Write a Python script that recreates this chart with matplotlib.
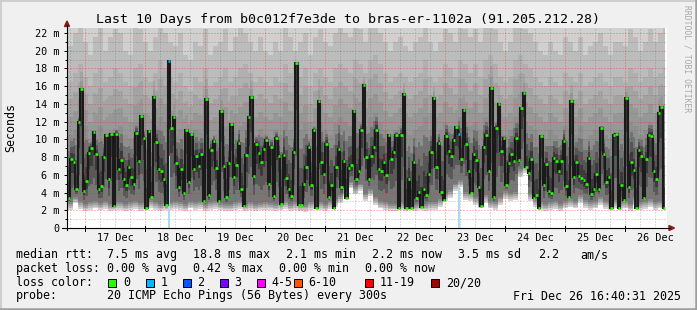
import numpy as np
import pandas as pd
import matplotlib
matplotlib.use('Agg')
import matplotlib.pyplot as plt
import matplotlib.dates as mdates
from matplotlib.patches import Rectangle, Polygon
from matplotlib.lines import Line2D

W, H = 697, 310

# hourly median rtt in ms, one value per clock hour starting Dec 16 17:00
median_ms = [
    3.4, 7.8, 7.5, 4.4, 12.0, 15.7, 4.2, 5.3, 8.5, 9.0,
    10.8, 8.3, 4.4, 4.7, 8.0, 10.5, 5.5, 10.6, 2.5, 10.6,
    6.6, 7.7, 5.5, 4.9, 6.9, 5.7, 5.0, 10.7, 7.6, 12.6,
    10.1, 2.3, 10.9, 3.5, 14.8, 9.7, 6.7, 6.4, 5.5, 2.6,
    18.8, 11.3, 12.5, 7.3, 4.6, 6.6, 4.0, 11.1, 5.2, 10.6,
    6.7, 8.1, 7.0, 8.3, 3.0, 14.5, 3.7,
    8.8, 9.8, 6.8, 3.0, 13.2, 7.0, 3.5, 7.3, 11.7, 5.7,
    7.1, 9.6, 4.4, 2.5, 8.2, 12.5, 14.8, 5.9, 9.5, 8.5,
    7.4, 8.9, 9.9, 5.0, 9.1, 3.6, 10.1, 8.1, 2.7, 8.2,
    5.6, 4.4, 3.6, 8.6, 18.6, 2.6, 2.6, 5.0, 6.9, 9.1,
    4.9, 11.1, 2.3, 14.3, 7.5, 6.1, 9.5, 3.5, 4.8, 2.2,
    6.9, 8.9, 4.6, 7.6, 3.4, 6.8,
    7.1, 13.2, 5.5, 6.4, 11.1, 16.1, 8.0, 5.5, 8.1, 9.1,
    11.1, 6.6, 6.4, 7.4, 6.0, 10.5, 7.8, 8.6, 10.5, 2.3,
    10.5, 15.1, 2.3, 5.5, 2.3, 7.5, 3.4, 4.1, 2.4, 4.4,
    3.7, 6.1, 8.6, 14.7, 6.9, 9.6, 4.1, 3.2, 10.4, 8.7,
    8.1, 9.9, 11.4, 10.6, 7.8, 13.3, 9.5, 6.4, 3.9, 8.3,
    7.7, 4.6, 2.5, 9.1, 10.5, 6.4,
    15.8, 3.5, 11.3, 14.0, 8.7, 10.1, 4.8, 7.3, 8.4, 7.6,
    10.1, 7.7, 13.5, 15.2, 6.9, 6.2, 7.8, 3.4, 3.7, 2.3,
    10.4, 4.9, 7.2, 4.2, 3.9, 7.9, 7.6, 6.4, 7.6, 9.8,
    4.7, 3.5, 14.3, 5.7, 7.5, 5.9, 5.6, 5.4, 5.0, 7.9,
    3.8, 4.4, 6.1, 4.4, 11.3, 8.4, 5.2, 5.7, 2.3, 10.5,
    10.6, 2.2, 4.8, 3.2, 14.7, 4.6,
    7.5, 6.5, 2.2, 8.8, 8.1, 3.4, 7.8, 10.5, 10.4, 6.4,
    5.5, 13.0, 13.6, 2.2,
]

# hours with lost pings (index into median_ms), number lost, height of loss bar
loss_hour = [40, 156]
loss_count = [1, 1]
loss_bar_ms = [8.1, 4.6]

# smoke envelope at 2 hour resolution (ms)
smoke_lo = [
    2.0, 2.8, 2.1, 1.9, 2.0, 2.2, 2.0, 2.1, 1.9, 2.0,
    2.0, 1.9, 2.0, 2.1, 1.9, 2.0, 2.2, 2.0, 1.9, 2.0,
    2.0, 2.1, 2.0, 1.9, 2.2, 2.0, 2.1, 1.9, 2.0, 2.1,
    2.0, 1.9, 1.9, 2.0, 2.1, 1.9, 2.0, 1.9, 2.0, 2.0,
    2.0, 1.9, 2.0, 2.1, 1.9, 2.0, 1.9, 1.8, 2.0, 2.1,
    2.0, 1.9, 2.1, 2.4, 2.8, 3.6, 4.5, 3.8, 4.2, 3.0,
    3.6, 2.6, 2.2, 2.0, 1.9, 1.9, 2.0, 1.9, 2.0, 1.9,
    2.0, 1.9, 2.0, 2.0, 2.4, 3.0, 3.4, 4.2, 4.6, 3.2,
    3.0, 2.6, 2.2, 2.8, 2.2, 2.0, 2.6, 3.3, 3.0, 3.2,
    5.8, 6.2, 3.0, 2.4, 2.0, 1.9, 2.0, 2.1, 1.9, 2.2,
    2.4, 2.2, 2.8, 2.3, 2.0, 2.2, 2.6, 2.1, 2.0, 2.3,
    2.0, 2.2, 1.9, 2.6, 2.0, 2.1, 2.4, 2.0, 2.2, 2.0,
]
smoke_q1 = [
    2.9, 3.5, 3.0, 2.7, 2.9, 3.1, 2.8, 3.0, 2.7, 2.9,
    2.9, 2.7, 2.9, 3.0, 2.8, 2.9, 3.2, 2.9, 2.7, 2.9,
    2.9, 3.0, 2.9, 2.7, 3.1, 2.9, 3.0, 2.7, 2.9, 3.0,
    2.8, 2.7, 2.7, 2.9, 3.0, 2.7, 2.9, 2.7, 2.8, 2.9,
    2.8, 2.7, 2.9, 3.0, 2.7, 2.9, 2.7, 2.6, 2.9, 3.0,
    2.9, 2.7, 3.0, 3.3, 3.7, 4.4, 5.2, 4.6, 5.0, 3.9,
    4.4, 3.5, 3.1, 2.9, 2.7, 2.7, 2.9, 2.7, 2.9, 2.7,
    2.9, 2.7, 2.9, 2.9, 3.3, 3.9, 4.3, 5.0, 5.4, 4.1,
    3.9, 3.5, 3.1, 3.7, 3.1, 2.9, 3.5, 4.2, 3.9, 4.1,
    6.6, 7.0, 3.9, 3.3, 2.9, 2.7, 2.9, 3.0, 2.7, 3.1,
    3.3, 3.1, 3.7, 3.2, 2.9, 3.1, 3.5, 3.0, 2.9, 3.2,
    2.9, 3.1, 2.7, 3.5, 2.9, 3.0, 3.3, 2.9, 3.1, 2.9,
]
smoke_q3 = [
    10.5, 11.0, 12.5, 11.5, 10.0, 10.5, 11.5, 10.0, 10.8, 11.2,
    11.5, 10.5, 10.0, 11.8, 12.0, 11.0, 10.2, 11.5, 12.5, 12.0,
    11.0, 10.5, 11.2, 10.4, 9.8, 11.0, 10.8, 12.0, 10.2, 10.5,
    11.0, 11.5, 10.0, 10.8, 11.5, 12.0, 11.0, 10.5, 11.2, 10.6,
    10.2, 11.0, 10.5, 12.0, 11.0, 10.5, 11.0, 11.8, 10.0, 11.5,
    12.0, 11.0, 10.5, 11.8, 12.5, 12.0, 11.5, 12.5, 12.0, 11.5,
    12.5, 13.0, 12.0, 11.0, 10.5, 11.0, 11.5, 10.8, 10.5, 11.0,
    11.5, 12.5, 11.0, 10.5, 11.0, 12.0, 11.5, 11.0, 12.5, 12.0,
    11.5, 12.0, 11.0, 12.5, 13.0, 12.0, 11.0, 10.5, 11.0, 12.5,
    13.0, 12.0, 11.5, 11.0, 10.5, 10.0, 11.0, 10.5, 10.0, 11.5,
    11.0, 10.5, 11.5, 10.0, 10.5, 11.0, 11.5, 10.5, 10.0, 10.8,
    11.0, 10.5, 12.0, 11.5, 10.5, 11.0, 12.0, 11.0, 11.5, 12.0,
]
smoke_q9 = [
    16.5, 17.5, 18.5, 17.0, 16.0, 17.5, 18.0, 16.5, 17.0, 18.0,
    17.5, 16.5, 16.0, 18.0, 18.5, 17.0, 16.5, 17.5, 19.0, 18.0,
    17.0, 16.5, 17.5, 16.0, 15.5, 17.0, 16.5, 18.0, 16.0, 16.5,
    17.0, 18.0, 16.5, 17.0, 18.0, 18.5, 17.5, 16.5, 17.0, 16.5,
    16.0, 17.0, 16.5, 18.5, 17.5, 16.5, 17.0, 18.0, 16.0, 17.5,
    18.0, 17.0, 16.5, 18.0, 18.5, 18.0, 17.5, 19.0, 18.5, 17.5,
    19.0, 19.5, 18.5, 17.5, 16.5, 17.0, 17.5, 17.0, 16.5, 17.0,
    17.5, 19.0, 17.0, 16.5, 17.0, 18.5, 18.0, 17.0, 19.0, 18.5,
    17.5, 18.5, 17.0, 19.0, 19.5, 18.5, 17.0, 16.5, 17.0, 19.0,
    19.5, 18.5, 18.0, 17.0, 16.5, 16.0, 17.0, 16.5, 16.0, 17.5,
    17.0, 16.5, 17.5, 16.0, 16.5, 17.0, 17.5, 16.5, 16.0, 17.0,
    17.0, 16.5, 18.0, 17.5, 16.5, 17.0, 18.0, 17.0, 17.5, 18.0,
]
smoke_q95 = [
    20.5, 22.0, 23.0, 21.0, 19.5, 21.5, 23.0, 20.0, 21.5, 22.5,
    22.0, 20.0, 19.5, 23.0, 22.5, 21.0, 20.0, 21.5, 23.0, 22.0,
    21.0, 20.5, 22.0, 19.5, 19.0, 21.0, 20.5, 22.5, 19.5, 20.5,
    21.0, 22.5, 20.0, 21.5, 23.0, 22.0, 21.0, 20.0, 21.5, 20.0,
    19.5, 21.0, 20.0, 23.0, 21.5, 20.0, 21.0, 22.0, 19.5, 21.5,
    22.5, 21.0, 20.5, 22.0, 23.0, 22.0, 21.5, 23.0, 22.5, 21.0,
    23.0, 23.0, 22.0, 21.0, 20.0, 21.0, 21.5, 20.5, 20.0, 21.0,
    21.5, 23.0, 21.0, 20.0, 21.0, 22.5, 22.0, 21.0, 23.0, 22.5,
    21.5, 22.5, 21.0, 23.0, 23.0, 22.5, 21.0, 20.0, 21.0, 23.0,
    23.0, 22.5, 22.0, 21.0, 20.0, 19.5, 21.0, 20.0, 19.5, 21.5,
    21.0, 20.0, 21.5, 19.5, 20.5, 21.0, 22.0, 20.5, 19.5, 21.0,
    21.0, 20.5, 22.5, 21.5, 20.0, 21.0, 22.5, 21.0, 22.0, 23.0,
]

y_ticks = [0, 2, 4, 6, 8, 10, 12, 14, 16, 18, 20, 22]
y_labels = ['0'] + ['%d m' % v for v in y_ticks[1:]]
day_labels = ['17 Dec', '18 Dec', '19 Dec', '20 Dec', '21 Dec',
              '22 Dec', '23 Dec', '24 Dec', '25 Dec', '26 Dec']

loss_names = ['0', '1', '2', '3', '4-5', '6-10', '11-19', '20/20']
loss_colors = ['#26ff00', '#00b8ff', '#0059ff', '#7e00ff',
               '#ff00ff', '#ff5500', '#ff0000', '#a10000']

t_start = pd.Timestamp('2025-12-16 16:40:31')
t_end = pd.Timestamp('2025-12-26 16:40:31')
FONT = 'DejaVu Sans Mono'


def fx(x):
    return x / W


def fy(y):
    return 1 - y / H


def grey(c0, c1, k, n):
    a = np.array(matplotlib.colors.to_rgb(c0))
    b = np.array(matplotlib.colors.to_rgb(c1))
    f = k / max(n - 1, 1)
    return tuple(a + (b - a) * f)


def band(ax, edges, lo, hi, c0, c1, n):
    # split lo..hi into n slices shaded from c0 to c1
    for k in range(n):
        y0 = lo + (hi - lo) * k / n
        y1 = lo + (hi - lo) * (k + 1) / n
        ax.stairs(y1, edges, baseline=y0, fill=True, color=grey(c0, c1, k, n),
                  lw=0, antialiased=False, zorder=1)


plt.rcParams['font.family'] = FONT
plt.rcParams['lines.scale_dashes'] = False
fig = plt.figure(figsize=(W / 100, H / 100), dpi=100)
fig.patch.set_facecolor('#f0f0f0')

ax = fig.add_axes([fx(67), fy(228), 600 / W, 200 / H])
ax.set_facecolor('white')

med = np.array(median_ms)
n = len(med)
edges = mdates.date2num(pd.date_range('2025-12-16 17:00', periods=n + 1, freq='h'))
lo = np.repeat(smoke_lo, 2)[:n]
q1 = np.repeat(smoke_q1, 2)[:n]
q3 = np.repeat(smoke_q3, 2)[:n]
q9 = np.repeat(smoke_q9, 2)[:n]
q95 = np.repeat(smoke_q95, 2)[:n]
top = np.full(n, 23.0)

q1d = np.minimum(q1, med)
q3d = np.maximum(q3, med)
q9d = np.maximum(q9, q3d)
q95d = np.maximum(q95, q9d)

band(ax, edges, lo, q1d, '#d4d4d4', '#8a8a8a', 4)
band(ax, edges, q1d, med, '#777777', '#3a3a3a', 3)
band(ax, edges, med, q3d, '#3a3a3a', '#8e8e8e', 4)
band(ax, edges, q3d, q9d, '#979797', '#b0b0b0', 3)
ax.stairs(q95d, edges, baseline=q9d, fill=True, color='#bcbcbc', lw=0,
          antialiased=False, zorder=1)
ax.stairs(top, edges, baseline=q95d, fill=True, color='#d0d0d0', lw=0,
          antialiased=False, zorder=1)

# grid, dotted 1px like rrdtool
dots = (0, (0.72, 1.44))
minor_c = (0.35, 0.35, 0.35, 0.4)
major_c = (1, 0.1, 0.1, 0.55)
for v in range(1, 23):
    ax.axhline(v, color=major_c if v % 2 == 0 else minor_c, lw=0.72, ls=dots, zorder=2)
for t in pd.date_range('2025-12-16 18:00', '2025-12-26 12:00', freq='6h'):
    ax.axvline(mdates.date2num(t), color=major_c if t.hour == 0 else minor_c,
               lw=0.72, ls=dots, zorder=2)

# loss bars
for h, c, b in zip(loss_hour, loss_count, loss_bar_ms):
    ax.bar(edges[h], b, width=edges[h + 1] - edges[h], align='edge',
           color='#a4def5', lw=0, zorder=2.5)

# median line
ax.stairs(med, edges, baseline=None, color='#1a1a1a', lw=1.5, zorder=3)
cols = ['#26ff00'] * n
for h, c in zip(loss_hour, loss_count):
    cols[h] = loss_colors[c]
ax.hlines(med, edges[:-1], edges[1:], colors=cols, lw=1.9, zorder=4)

ax.set_xlim(mdates.date2num(t_start), mdates.date2num(t_end))
ax.set_ylim(0, 22.56)
for s in ax.spines.values():
    s.set_visible(False)

ax.set_yticks(y_ticks, y_labels)
ax.set_yticks(range(1, 23, 2), minor=True)
ax.tick_params(axis='y', which='major', length=3 / 1.389, width=0.72, pad=3.2,
               labelsize=7.25, direction='out')
ax.tick_params(axis='y', which='minor', length=2 / 1.389, width=0.72, direction='out')
noons = mdates.date2num(pd.date_range('2025-12-17 12:00', periods=10, freq='D'))
ax.set_xticks(noons, day_labels)
ax.tick_params(axis='x', which='major', length=0, pad=3.6, labelsize=7.25)

# axes lines and arrows
fig.add_artist(Line2D([fx(67), fx(67)], [fy(230), fy(25)], color='black', lw=0.8))
fig.add_artist(Line2D([fx(62), fx(670)], [fy(228), fy(228)], color='black', lw=0.8))
fig.add_artist(Polygon([(fx(64.5), fy(26.5)), (fx(69.5), fy(26.5)), (fx(67), fy(21))],
                       closed=True, color='#8c1a1a', transform=fig.transFigure))
fig.add_artist(Polygon([(fx(669), fy(225.5)), (fx(669), fy(230.5)), (fx(674.5), fy(228))],
                       closed=True, color='#8c1a1a', transform=fig.transFigure))
for t in pd.date_range('2025-12-17', '2025-12-26', freq='D'):
    xp = 67 + (t - t_start).total_seconds() / 3600 * 2.5
    fig.add_artist(Line2D([fx(xp), fx(xp)], [fy(226), fy(231)], color='black', lw=0.72))

# texts
fig.text(fx(347.5), fy(19), 'Last 10 Days from b0c012f7e3de to bras-er-1102a (91.205.212.28)',
         ha='center', va='center', fontsize=9.55)
fig.text(fx(10.5), fy(128), 'Seconds', rotation=90, ha='center', va='center', fontsize=8.4)
fig.text(fx(687), fy(59), 'RRDTOOL / TOBI OETIKER', rotation=270, ha='center', va='center',
         fontsize=5.8, color='#a8a8a8')

line1 = [('median rtt:', 16), ('7.5 ms avg', 107), ('18.8 ms max', 193), ('2.1 ms min', 286),
         ('2.2 ms now', 372), ('3.5 ms sd', 458), ('2.2', 538), ('am/s', 580)]
line2 = [('packet loss:', 16), ('0.00 % avg', 107), ('0.42 % max', 193),
         ('0.00 % min', 279), ('0.00 % now', 365)]
line4 = [('probe:', 16), ('20 ICMP Echo Pings (56 Bytes) every 300s', 107),
         ('Fri Dec 26 16:40:31 2025', 513)]
for items, yy in [(line1, 254.5), (line2, 268.5), (line4, 296)]:
    for s, xx in items:
        fig.text(fx(xx), fy(yy), s, ha='left', va='center', fontsize=8.4)

fig.text(fx(16), fy(282.5), 'loss color:', ha='left', va='center', fontsize=8.4)
box_x = [108, 145.5, 182.5, 219.5, 256.5, 293.5, 365, 431]
for name, col, bx in zip(loss_names, loss_colors, box_x):
    fig.add_artist(Rectangle((fx(bx), fy(286.5)), 8 / W, 8 / H, facecolor=col,
                             edgecolor='black', lw=0.72, transform=fig.transFigure))
    fig.text(fx(bx + 15), fy(282.5), name, ha='left', va='center', fontsize=8.4)

# 3d frame
fig.add_artist(Line2D([0, 1], [fy(0.7), fy(0.7)], color='#cfcfcf', lw=1.4))
fig.add_artist(Line2D([fx(0.7), fx(0.7)], [0, 1], color='#cfcfcf', lw=1.4))
fig.add_artist(Line2D([0, 1], [fy(308.8), fy(308.8)], color='#9e9e9e', lw=1.8))
fig.add_artist(Line2D([fx(695.8), fx(695.8)], [0, 1], color='#9e9e9e', lw=1.8))

fig.savefig('out.png', dpi=100, facecolor=fig.get_facecolor())
